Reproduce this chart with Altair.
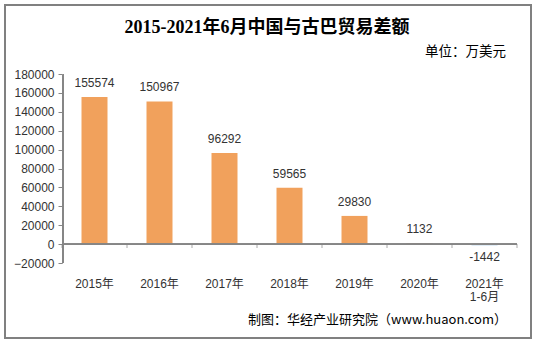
import altair as alt
import pandas as pd

categories = ["2015年", "2016年", "2017年", "2018年", "2019年", "2020年", "2021年\n1-6月"]
values = [155574, 150967, 96292, 59565, 29830, 1132, -1442]
y_ticks = list(range(-20000, 180001, 20000))

df = pd.DataFrame({"cat": categories, "val": values})
df["lbl"] = df["val"].astype(str)

W, H = 455, 189
FONT = "Liberation Sans, Noto Sans CJK SC"
CJK = "Noto Sans CJK SC"
GRAY = "#868686"

xscale = alt.Scale(domain=categories, paddingInner=0, paddingOuter=0)
yscale = alt.Scale(domain=[y_ticks[0], y_ticks[-1]], nice=False)

base = alt.Chart(df)

bars = base.mark_bar(size=26).encode(
    x=alt.X("cat:N", sort=categories, scale=xscale, title=None,
            axis=alt.Axis(labelAngle=0, domain=False, ticks=False, labelPadding=15,
                          labelFont=FONT, labelFontSize=12, labelColor="#333333",
                          labelBaseline="top", labelLineHeight=13,
                          labelExpr="split(datum.label, '\\n')")),
    y=alt.Y("val:Q", scale=yscale, title=None,
            axis=alt.Axis(values=y_ticks, grid=False, domain=True, domainColor=GRAY,
                          domainWidth=1, tickColor=GRAY, ticks=True,
                          tickSize=4, labelFont=FONT, labelFontSize=12, labelColor="#333333",
                          labelPadding=4, format="d", labelOverlap=False)),
    color=alt.condition("datum.val >= 0", alt.value("#F1A15C"), alt.value("#BDD7EE")),
)

yline = alt.Chart(pd.DataFrame({"lo": [y_ticks[0]], "hi": [y_ticks[-1]]})).mark_rule(
    color=GRAY, strokeWidth=1.5, clip=False).encode(
    x=alt.value(1.25),
    y=alt.Y("lo:Q", axis=None, scale=yscale),
    y2="hi:Q")

zero = base.mark_rule(color=GRAY, strokeWidth=1).encode(
    y=alt.Y(datum=0, axis=None, scale=yscale))

ticks = base.mark_tick(orient="vertical", size=4, yOffset=2, color=GRAY, thickness=1).encode(
    x=alt.X("cat:N", sort=categories, bandPosition=0, axis=None),
    y=alt.Y(datum=0, axis=None, scale=yscale),
)
end_tick = base.transform_filter(alt.datum.cat == categories[-1]).mark_tick(
    orient="vertical", size=4, yOffset=2, color=GRAY, thickness=1).encode(
    x=alt.X("cat:N", sort=categories, bandPosition=1, axis=None),
    y=alt.Y(datum=0, axis=None, scale=yscale),
)

lab_pos = base.transform_filter("datum.val >= 0").mark_text(
    baseline="bottom", dy=-7, font=FONT, fontSize=12, color="#333333").encode(
    x=alt.X("cat:N", sort=categories, axis=None), y=alt.Y("val:Q", axis=None), text="lbl:N")
lab_neg = base.transform_filter("datum.val < 0").mark_text(
    baseline="top", dy=7, font=FONT, fontSize=12, color="#333333").encode(
    x=alt.X("cat:N", sort=categories, axis=None), y=alt.Y("val:Q", axis=None), text="lbl:N")

title = alt.Chart(pd.DataFrame({"t": ["2015-2021年6月中国与古巴贸易差额"]})).mark_text(
    font="Liberation Serif, " + CJK, fontSize=18, fontWeight="bold", color="#000000",
    align="center", baseline="middle").encode(
    x=alt.value(205), y=alt.value(-46), text="t:N")
unit = alt.Chart(pd.DataFrame({"t": ["单位：万美元"]})).mark_text(
    font=CJK, fontSize=13.5, color="#000000", align="right", baseline="middle").encode(
    x=alt.value(444), y=alt.value(-22), text="t:N")
source = alt.Chart(pd.DataFrame({"t": ["制图：华经产业研究院（www.huaon.com）"]})).mark_text(
    font=CJK, fontSize=13, color="#000000", align="right", baseline="middle").encode(
    x=alt.value(445), y=alt.value(246), text="t:N")
border = alt.Chart(pd.DataFrame({"a": [0]})).mark_rect(
    fill=None, stroke="#808080", strokeWidth=2, clip=False).encode(
    x=alt.value(-57), x2=alt.value(469), y=alt.value(-69), y2=alt.value(264))

chart = alt.layer(bars, yline, zero, ticks, end_tick, lab_pos, lab_neg, title, unit, source, border).properties(
    width=W, height=H,
    autosize=alt.AutoSizeParams(type="none"),
    padding={"left": 62, "top": 74, "right": 18, "bottom": 78},
    background="white",
).resolve_axis(x="independent", y="independent").configure_view(stroke=None)

chart.save("out.html", embed_options={"renderer": "svg", "actions": False})
